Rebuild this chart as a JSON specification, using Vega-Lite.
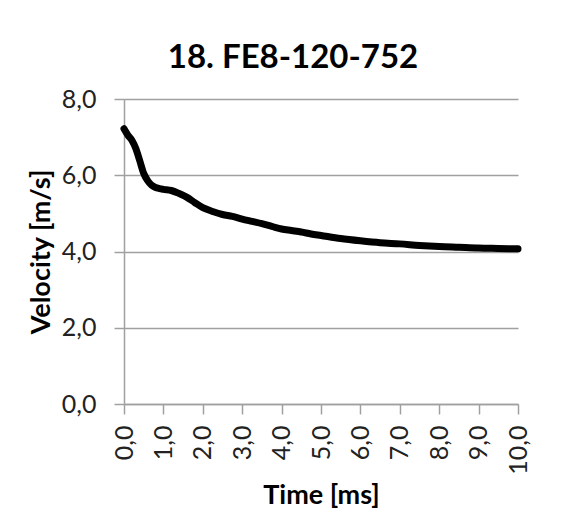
{
  "$schema": "https://vega.github.io/schema/vega-lite/v6.json",
  "width": 394,
  "height": 305,
  "autosize": {"type": "none"},
  "padding": {"left": 124, "top": 99, "right": 54, "bottom": 119},
  "background": "white",
  "title": {
    "text": "18. FE8-120-752",
    "font": "Lato",
    "fontSize": 33,
    "fontWeight": "bold",
    "color": "#000000",
    "anchor": "middle",
    "dx": -28,
    "offset": 12
  },
  "config": {
    "view": {"stroke": null},
    "font": "Lato"
  },
  "data": {
    "values": [
      {"t": 0.0, "v": 7.22}, {"t": 0.1, "v": 7.05}, {"t": 0.2, "v": 6.92},
      {"t": 0.3, "v": 6.70}, {"t": 0.4, "v": 6.38}, {"t": 0.5, "v": 6.05},
      {"t": 0.6, "v": 5.86}, {"t": 0.7, "v": 5.74}, {"t": 0.8, "v": 5.68},
      {"t": 0.9, "v": 5.65}, {"t": 1.0, "v": 5.63}, {"t": 1.2, "v": 5.60},
      {"t": 1.4, "v": 5.52}, {"t": 1.6, "v": 5.42}, {"t": 1.8, "v": 5.28},
      {"t": 2.0, "v": 5.15}, {"t": 2.25, "v": 5.05}, {"t": 2.5, "v": 4.97},
      {"t": 2.75, "v": 4.92}, {"t": 3.0, "v": 4.85}, {"t": 3.25, "v": 4.79},
      {"t": 3.5, "v": 4.73}, {"t": 3.75, "v": 4.66}, {"t": 4.0, "v": 4.59},
      {"t": 4.25, "v": 4.55}, {"t": 4.5, "v": 4.51}, {"t": 4.75, "v": 4.46},
      {"t": 5.0, "v": 4.42}, {"t": 5.5, "v": 4.34}, {"t": 6.0, "v": 4.28},
      {"t": 6.5, "v": 4.23}, {"t": 7.0, "v": 4.20}, {"t": 7.5, "v": 4.16},
      {"t": 8.0, "v": 4.13}, {"t": 8.5, "v": 4.11}, {"t": 9.0, "v": 4.09},
      {"t": 9.5, "v": 4.08}, {"t": 10.0, "v": 4.07}
    ]
  },
  "mark": {"type": "line", "color": "#000000", "strokeWidth": 7, "strokeCap": "round", "strokeJoin": "round", "interpolate": "monotone"},
  "encoding": {
    "x": {
      "field": "t",
      "type": "quantitative",
      "scale": {"domain": [0, 10], "nice": false, "zero": false},
      "axis": {
        "title": "Time [ms]",
        "values": [0, 1, 2, 3, 4, 5, 6, 7, 8, 9, 10],
        "labelExpr": "replace(format(datum.value, '.1f'), '.', ',')",
        "labelAngle": -90,
        "labelFont": "Lato",
        "labelFontSize": 25,
        "labelColor": "#222222",
        "labelPadding": 11,
        "grid": false,
        "domainColor": "#a0a0a0",
        "domainWidth": 1.5,
        "tickColor": "#a0a0a0",
        "tickWidth": 1.5,
        "tickSize": 10,
        "titleFont": "Lato",
        "titleFontSize": 27,
        "titleFontWeight": "bold",
        "titleColor": "#000000",
        "titlePadding": 8
      }
    },
    "y": {
      "field": "v",
      "type": "quantitative",
      "scale": {"domain": [0, 8], "nice": false},
      "axis": {
        "title": "Velocity [m/s]",
        "values": [0, 2, 4, 6, 8],
        "labelExpr": "replace(format(datum.value, '.1f'), '.', ',')",
        "labelFont": "Lato",
        "labelFontSize": 25,
        "labelColor": "#222222",
        "labelPadding": 18,
        "grid": true,
        "gridColor": "#a0a0a0",
        "gridWidth": 1.5,
        "domainColor": "#a0a0a0",
        "domainWidth": 1.5,
        "tickColor": "#a0a0a0",
        "tickWidth": 1.5,
        "tickSize": 10,
        "titleFont": "Lato",
        "titleFontSize": 27,
        "titleFontWeight": "bold",
        "titleColor": "#000000",
        "titlePadding": 6
      }
    }
  }
}
